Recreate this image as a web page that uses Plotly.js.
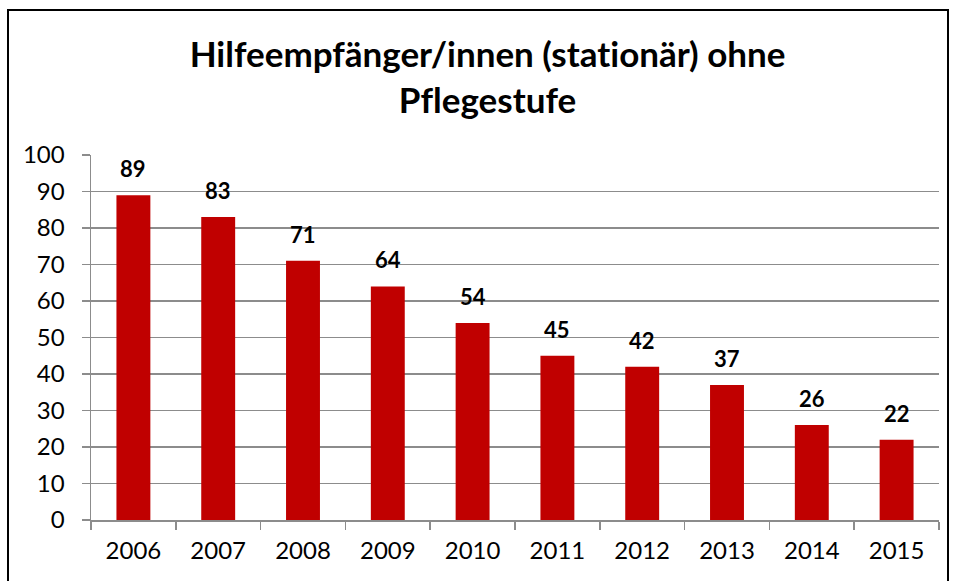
<!DOCTYPE html>
<html>
<head>
<meta charset="utf-8">
<script src="https://cdn.plot.ly/plotly-3.0.1.min.js"></script>
<style>html,body{margin:0;padding:0;background:#fff;}#chart{width:956px;height:581px;}
#chart text{font-variant-ligatures:none;font-feature-settings:"liga" 0, "clig" 0;}</style>
</head>
<body>
<div id="chart"></div>
<script>
const years = ["2006","2007","2008","2009","2010","2011","2012","2013","2014","2015"];
const values = [89, 83, 71, 64, 54, 45, 42, 37, 26, 22];
const titleText = "Hilfeempfänger/innen (stationär) ohne<br>Pflegestufe";

const FONT = "Lato, 'Open Sans', sans-serif";
const L = 91, R = 17, T = 155, B = 61;
const W = 956, H = 581;
const pw = W - L - R, ph = H - T - B;
function px2x(p){ return (p - L) / pw; }
function py2y(p){ return (H - B - p) / ph; }

const trace = {
  type: "bar",
  x: years,
  y: values,
  marker: {color: "#C00000"},
  textposition: "none",
  hoverinfo: "x+y"
};

const annotations = years.map((yr, i) => ({
  x: i, y: values[i], xref: "x", yref: "y",
  text: "<b>" + values[i] + "</b>", showarrow: false,
  yanchor: "bottom", yshift: 11,
  font: {family: FONT, size: 22, color: "#000"}
}));

const layout = {
  width: W, height: H,
  margin: {l: L, r: R, t: T, b: B},
  paper_bgcolor: "#fff", plot_bgcolor: "#fff",
  title: {
    text: "<b>" + titleText + "</b>",
    font: {family: FONT, size: 35, color: "#000"},
    x: 0.51, xanchor: "center", y: 1 - 67/H, yanchor: "middle"
  },
  bargap: 0.6,
  showlegend: false,
  xaxis: {
    type: "category",
    categoryorder: "array", categoryarray: years,
    range: [-0.5, years.length - 0.5],
    tickson: "boundaries",
    ticks: "outside", ticklen: 8, tickcolor: "#8c8c8c", tickwidth: 1.5,
    showline: true, linecolor: "#8c8c8c", linewidth: 1.5,
    showgrid: false,
    ticklabelstandoff: 9,
    tickfont: {family: FONT, size: 24, color: "#000"},
    fixedrange: true
  },
  yaxis: {
    range: [0, 100], dtick: 10,
    ticks: "outside", ticklen: 8, tickcolor: "#8c8c8c", tickwidth: 1.5,
    showline: true, linecolor: "#8c8c8c", linewidth: 1.5,
    showgrid: true, gridcolor: "#8c8c8c", gridwidth: 1.5,
    zeroline: false,
    ticklabelstandoff: 12,
    tickfont: {family: FONT, size: 24, color: "#000"},
    fixedrange: true
  },
  annotations: annotations,
  shapes: [{
    type: "rect", xref: "paper", yref: "paper",
    x0: px2x(8), x1: px2x(948), y0: py2y(600), y1: py2y(10),
    line: {color: "#000", width: 2}, fillcolor: "rgba(0,0,0,0)", layer: "below"
  }]
};

Plotly.newPlot("chart", [trace], layout, {displayModeBar: false, staticPlot: true});
</script>
</body>
</html>
